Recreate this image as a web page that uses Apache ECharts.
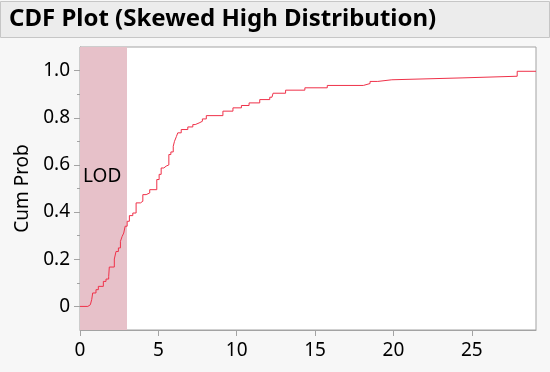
<!DOCTYPE html>
<html>
<head>
<meta charset="utf-8">
<script src="https://cdn.jsdelivr.net/npm/echarts@6/dist/echarts.min.js"></script>
<style>
html,body{margin:0;padding:0;background:#f7f7f7;}
#chart{width:550px;height:372px;}
</style>
</head>
<body>
<div id="chart"></div>
<script>
// Data
const titleText = 'CDF Plot (Skewed High Distribution)';
const yAxisName = 'Cum Prob';
const xValues = [0, 0.50, 0.66, 0.75, 0.81, 1.02, 1.17, 1.49, 1.66, 1.83, 1.87, 2.19, 2.30, 2.45, 2.58, 2.69, 2.79, 2.88, 3.01, 3.15, 3.37, 3.58, 3.86, 4.01, 4.22, 4.45, 4.90, 5.05, 5.18, 5.35, 5.50, 5.67, 5.80, 5.95, 6.03, 6.15, 6.24, 6.46, 6.88, 7.20, 7.35, 7.60, 7.81, 8.06, 9.12, 9.76, 10.30, 10.79, 11.47, 12.11, 12.25, 12.32, 13.12, 14.35, 15.78, 18.08, 18.51, 19.00, 19.90, 24.38, 27.90, 29.10];
const cumProb = [0, 0.007, 0.014, 0.030, 0.057, 0.071, 0.085, 0.106, 0.116, 0.127, 0.167, 0.201, 0.233, 0.248, 0.276, 0.297, 0.311, 0.340, 0.361, 0.385, 0.396, 0.439, 0.446, 0.474, 0.481, 0.495, 0.538, 0.560, 0.587, 0.595, 0.600, 0.644, 0.655, 0.679, 0.700, 0.720, 0.736, 0.750, 0.761, 0.771, 0.778, 0.785, 0.795, 0.809, 0.828, 0.842, 0.852, 0.863, 0.877, 0.887, 0.895, 0.904, 0.917, 0.927, 0.937, 0.945, 0.954, 0.961, 0.969, 0.976, 0.997, 0.997];
const lodRange = [0, 3];
const lodLabel = 'LOD';
const xTicks = [0, 5, 10, 15, 20, 25];
const yTicks = [0, 0.2, 0.4, 0.6, 0.8, 1.0];
const yMinorTicks = [0.1, 0.3, 0.5, 0.7, 0.9];
const xRange = [0, 29.1];
const yRange = [-0.1, 1.1];

const seriesData = xValues.map((x, i) => [x, cumProb[i]]);

const font = 'Noto Sans';
const axisGray = '#a3a3a3';
const chart = echarts.init(document.getElementById('chart'), null, {renderer: 'canvas'});
chart.setOption({
  backgroundColor: '#f7f7f7',
  animation: false,
  graphic: [{
    type: 'rect', z: -1,
    shape: {x: 0.5, y: 1.5, width: 549, height: 36},
    style: {fill: '#ececec', stroke: '#c6c6c6', lineWidth: 1}
  }],
  title: {
    text: titleText, left: 4, top: 2,
    textStyle: {fontFamily: font, fontWeight: 'bold', fontSize: 24, color: '#000'}
  },
  grid: {
    left: 80, top: 47, right: 14, bottom: 42,
    show: true, backgroundColor: '#ffffff', borderColor: axisGray, borderWidth: 1
  },
  xAxis: {
    type: 'value', min: xRange[0], max: xRange[1],
    axisLine: {show: true, onZero: false, lineStyle: {color: axisGray}},
    axisTick: {show: true, length: 6, customValues: xTicks, lineStyle: {color: axisGray}},
    axisLabel: {customValues: xTicks, margin: 11, fontFamily: font, fontSize: 19, color: '#000'},
    splitLine: {show: false}
  },
  yAxis: [{
    type: 'value', min: yRange[0], max: yRange[1],
    name: yAxisName, nameLocation: 'middle', nameGap: 48,
    nameTextStyle: {fontFamily: font, fontSize: 19, color: '#000'},
    axisLine: {show: true, onZero: false, lineStyle: {color: axisGray}},
    axisTick: {show: true, length: 6, customValues: yTicks, lineStyle: {color: axisGray}},
    axisLabel: {customValues: yTicks, margin: 10, fontFamily: font, fontSize: 19, color: '#000',
      formatter: v => (Math.abs(v) < 1e-9 ? '0' : v.toFixed(1))},
    splitLine: {show: false}
  }, {
    type: 'value', min: yRange[0], max: yRange[1], position: 'left',
    axisLine: {show: false},
    axisTick: {show: true, length: 3, customValues: yMinorTicks, lineStyle: {color: axisGray}},
    axisLabel: {show: false},
    splitLine: {show: false}
  }],
  series: [{
    type: 'line', step: 'end', yAxisIndex: 0,
    data: seriesData, showSymbol: false, symbol: 'none',
    lineStyle: {color: '#ef3149', width: 1},
    markArea: {
      silent: true,
      itemStyle: {color: '#e7c1c9'},
      label: {show: true, position: 'insideLeft', offset: [-2, -12], fontFamily: font, fontSize: 19, color: '#000'},
      data: [[{name: lodLabel, xAxis: lodRange[0]}, {xAxis: lodRange[1]}]]
    },
    z: 3
  }]
});
</script>
</body>
</html>
